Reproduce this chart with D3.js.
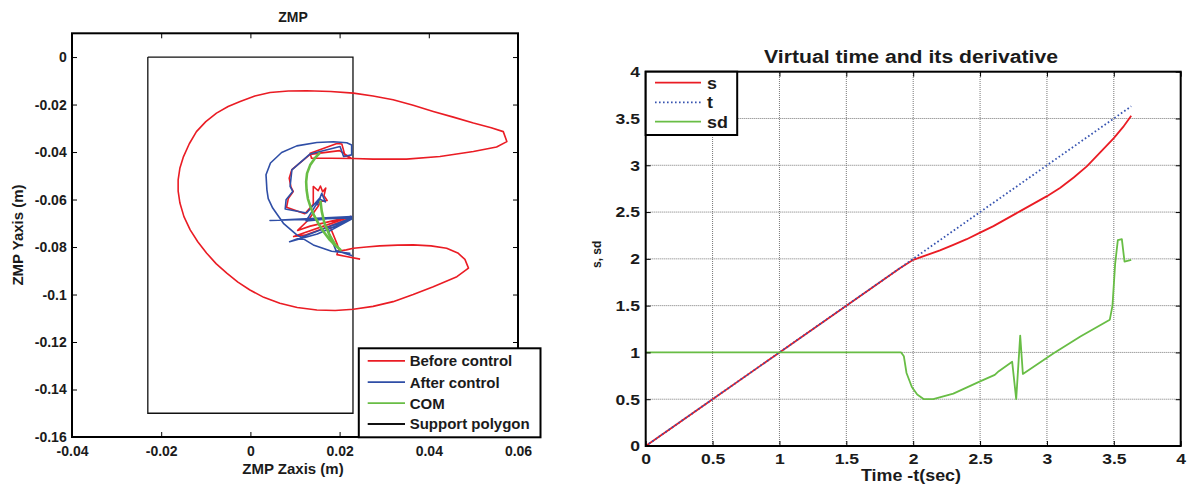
<!DOCTYPE html>
<html>
<head>
<meta charset="utf-8">
<script src="https://cdnjs.cloudflare.com/ajax/libs/d3/7.8.5/d3.min.js"></script>
<style>
  body { margin: 0; background: #fff; }
  svg { display: block; font-family: "Liberation Sans", Arial, sans-serif; font-weight: bold; }
</style>
</head>
<body>
<svg width="1190" height="486"></svg>
<script>
// ---- left panel: ZMP (x = Zaxis, y = Yaxis, metres)
var zmpXTicks = [-0.04, -0.02, 0, 0.02, 0.04, 0.06];
var zmpXLabels = ["-0.04", "-0.02", "0", "0.02", "0.04", "0.06"];
var zmpYTicks = [0, -0.02, -0.04, -0.06, -0.08, -0.1, -0.12, -0.14, -0.16];
var zmpYLabels = ["0", "-0.02", "-0.04", "-0.06", "-0.08", "-0.1", "-0.12", "-0.14", "-0.16"];

var supportPolygon = [[-0.023, 0], [0.023, 0], [0.023, -0.15], [-0.023, -0.15], [-0.023, 0]];

var beforeControl = [
  [0.0246, -0.0851], [0.0215, -0.0840], [0.0194, -0.0832], [0.0196, -0.0818], [0.0215, -0.0812], [0.0231, -0.0805],
  [0.0260, -0.0800], [0.0290, -0.0795], [0.0330, -0.0792], [0.0365, -0.0791], [0.0405, -0.0795], [0.0440, -0.0805],
  [0.0465, -0.0825], [0.0481, -0.0852], [0.0489, -0.0889], [0.0463, -0.0925], [0.0410, -0.0967], [0.0365, -0.1000],
  [0.0320, -0.1030], [0.0275, -0.1050], [0.0231, -0.1062], [0.0190, -0.1067], [0.0149, -0.1065], [0.0105, -0.1055],
  [0.0066, -0.1037], [0.0030, -0.1012], [-0.0001, -0.0981], [-0.0028, -0.0948], [-0.0053, -0.0910], [-0.0077, -0.0870],
  [-0.0098, -0.0826], [-0.0118, -0.0778], [-0.0135, -0.0728], [-0.0149, -0.0672], [-0.0158, -0.0615], [-0.0162, -0.0565],
  [-0.0162, -0.0517], [-0.0158, -0.0467], [-0.0150, -0.0419], [-0.0137, -0.0365], [-0.0121, -0.0314], [-0.0100, -0.0272],
  [-0.0076, -0.0236], [-0.0050, -0.0208], [-0.0023, -0.0187], [0.0010, -0.0164], [0.0044, -0.0149], [0.0085, -0.0143],
  [0.0126, -0.0142], [0.0180, -0.0145], [0.0231, -0.0152], [0.0275, -0.0164], [0.0320, -0.0180], [0.0365, -0.0203],
  [0.0410, -0.0229], [0.0455, -0.0253], [0.0500, -0.0278], [0.0540, -0.0298], [0.0567, -0.0314], [0.0575, -0.0356],
  [0.0552, -0.0379], [0.0500, -0.0398], [0.0425, -0.0419], [0.0350, -0.0430], [0.0275, -0.0430], [0.0231, -0.0427],
  [0.0180, -0.0426], [0.0137, -0.0426],
  [0.0134, -0.0405], [0.0194, -0.0364], [0.0205, -0.0366], [0.0212, -0.0414], [0.0225, -0.0425], [0.0200, -0.0394],
  [0.0134, -0.0410], [0.0093, -0.0474], [0.0087, -0.0510], [0.0091, -0.0548], [0.0096, -0.0566], [0.0085, -0.0596],
  [0.0081, -0.0633], [0.0122, -0.0660], [0.0141, -0.0620], [0.0141, -0.0545], [0.0152, -0.0563], [0.0157, -0.0543],
  [0.0162, -0.0567], [0.0169, -0.0552], [0.0165, -0.0584], [0.0172, -0.0604], [0.0157, -0.0608], [0.0152, -0.0628],
  [0.0130, -0.0686], [0.0106, -0.0730], [0.0134, -0.0712], [0.0225, -0.0672], [0.0097, -0.0756], [0.0122, -0.0750],
  [0.0225, -0.0680], [0.0178, -0.0712], [0.0195, -0.0790], [0.0200, -0.0818]
];

var afterControl = [
  [0.0157, -0.0590], [0.0150, -0.0622], [0.0160, -0.0574], [0.0168, -0.0610], [0.0155, -0.0598],
  [0.0125, -0.0690], [0.0227, -0.0672], [0.0044, -0.0688], [0.0227, -0.0678], [0.0088, -0.0778], [0.0150, -0.0745],
  [0.0227, -0.0682], [0.0175, -0.0735], [0.0192, -0.0815], [0.0227, -0.0836], [0.0205, -0.0822], [0.0223, -0.0826],
  [0.0182, -0.0818], [0.0141, -0.0791], [0.0104, -0.0749], [0.0074, -0.0700], [0.0050, -0.0636], [0.0040, -0.0596],
  [0.0037, -0.0559], [0.0035, -0.0496], [0.0045, -0.0446], [0.0070, -0.0402], [0.0104, -0.0374], [0.0149, -0.0360],
  [0.0186, -0.0357], [0.0216, -0.0361], [0.0227, -0.0370], [0.0227, -0.0412], [0.0209, -0.0419], [0.0201, -0.0377],
  [0.0134, -0.0408], [0.0093, -0.0475], [0.0089, -0.0545], [0.0095, -0.0566], [0.0080, -0.0601], [0.0078, -0.0640],
  [0.0126, -0.0657], [0.0157, -0.0590]
];

var comTrajectory = [
  [0.0156, -0.0403], [0.0145, -0.0425], [0.0134, -0.0455], [0.0127, -0.0490], [0.0125, -0.0525], [0.0126, -0.0560],
  [0.0129, -0.0597], [0.0135, -0.0632], [0.0143, -0.0668], [0.0153, -0.0703], [0.0165, -0.0738], [0.0178, -0.0770],
  [0.0191, -0.0795], [0.0202, -0.0812], [0.0190, -0.0790], [0.0177, -0.0748], [0.0166, -0.0700], [0.0160, -0.0650],
  [0.0157, -0.0605]
];

var zmpLegend = ["Before control", "After control", "COM", "Support polygon"];

// ---- right panel: virtual time s, real time t, derivative sd
var timeTicks = [0, 0.5, 1, 1.5, 2, 2.5, 3, 3.5, 4];
var timeLabels = ["0", "0.5", "1", "1.5", "2", "2.5", "3", "3.5", "4"];
var valueTicks = [0, 0.5, 1, 1.5, 2, 2.5, 3, 3.5, 4];
var valueLabels = ["0", "0.5", "1", "1.5", "2", "2.5", "3", "3.5", "4"];

var sCurve = [
  [0, 0], [0.5, 0.5], [1, 1], [1.5, 1.5], [1.9, 1.9], [2.0, 1.99], [2.1, 2.04], [2.2, 2.09], [2.3, 2.15],
  [2.4, 2.21], [2.5, 2.28], [2.6, 2.35], [2.7, 2.43], [2.8, 2.51], [2.9, 2.59], [3.0, 2.67], [3.1, 2.76],
  [3.2, 2.87], [3.3, 2.99], [3.4, 3.14], [3.5, 3.29], [3.57, 3.41], [3.63, 3.53]
];
var tCurve = [[0, 0], [3.63, 3.63]];
var sdCurve = [
  [0, 1], [1.91, 1], [1.93, 0.96], [1.95, 0.78], [1.99, 0.63], [2.03, 0.55], [2.08, 0.5], [2.15, 0.5], [2.3, 0.56],
  [2.5, 0.69], [2.61, 0.76], [2.64, 0.8], [2.74, 0.9], [2.77, 0.5], [2.8, 1.18], [2.82, 0.77], [3.05, 0.99],
  [3.25, 1.17], [3.47, 1.35], [3.49, 1.5], [3.51, 1.95], [3.53, 2.2], [3.56, 2.21], [3.58, 1.97], [3.63, 1.99]
];
var timeLegend = ["s", "t", "sd"];

var RED = "#ea1c24", BLUE = "#2f4ea6", GREEN = "#68bd45", INK = "#1b1b1b";

var svg = d3.select("svg");
svg.append("rect").attr("width", 1190).attr("height", 486).attr("fill", "#fff");

// inward ticks on all four sides, MATLAB style
function ticks(g, x, y, xt, xl, yt, yl, o) {
  var x0 = x.range()[0], x1 = x.range()[1], y0 = y.range()[0], y1 = y.range()[1];
  var bottom = g.append("g").attr("transform", "translate(0," + y0 + ")")
    .call(d3.axisBottom(x).tickValues(xt).tickFormat(function (d, i) { return xl[i]; })
      .tickSizeInner(-5).tickSizeOuter(0).tickPadding(o.xPad));
  var left = g.append("g").attr("transform", "translate(" + x0 + ",0)")
    .call(d3.axisLeft(y).tickValues(yt).tickFormat(function (d, i) { return yl[i]; })
      .tickSizeInner(-5).tickSizeOuter(0).tickPadding(o.yPad));
  g.append("g").attr("transform", "translate(0," + y1 + ")")
    .call(d3.axisTop(x).tickValues(xt).tickFormat("").tickSizeInner(-5).tickSizeOuter(0));
  g.append("g").attr("transform", "translate(" + x1 + ",0)")
    .call(d3.axisRight(y).tickValues(yt).tickFormat("").tickSizeInner(-5).tickSizeOuter(0));
  g.selectAll(".domain").remove();
  g.selectAll(".tick line").attr("stroke", "#000").attr("stroke-width", 1);
  g.selectAll("g").attr("font-family", null).attr("font-size", null);
  g.selectAll(".tick text").attr("fill", INK).style("font-size", o.size + "px");
  if (o.stretch) {
    bottom.selectAll("text").attr("transform", "scale(" + o.stretch + ",1)");
    left.selectAll("text").attr("x", 0)
      .attr("transform", "translate(" + (-o.yPad) + ",0) scale(" + o.stretch + ",1)");
  }
  g.append("rect").attr("x", x0).attr("y", y1).attr("width", x1 - x0).attr("height", y0 - y1)
    .attr("fill", "none").attr("stroke", "#000").attr("stroke-width", 2);
}

function legend(g, x, y, w, h, items, lineX, textX, rows, o) {
  var lg = g.append("g");
  lg.append("rect").attr("x", x).attr("y", y).attr("width", w).attr("height", h)
    .attr("fill", "#fff").attr("stroke", "#000").attr("stroke-width", 2);
  var row = lg.selectAll(".row").data(items).enter().append("g")
    .attr("transform", function (d, i) { return "translate(0," + rows[i] + ")"; });
  row.append("line").attr("x1", lineX[0]).attr("x2", lineX[1])
    .attr("stroke", function (d) { return d.color; }).attr("stroke-width", function (d) { return d.width; })
    .attr("stroke-dasharray", function (d) { return d.dash || null; });
  row.append("text").attr("transform", "translate(" + textX + "," + o.dy + ") scale(" + (o.stretch || 1) + ",1)")
    .attr("fill", INK).style("font-size", o.size + "px").text(function (d) { return d.name; });
}

// ================= ZMP panel
var zx = d3.scaleLinear().domain([-0.04, 0.06]).range([72, 518]);
var zy = d3.scaleLinear().domain([-0.16, 0.01]).range([437, 33.3]);
var zline = d3.line().x(function (d) { return zx(d[0]); }).y(function (d) { return zy(d[1]); });
var left = svg.append("g");

left.append("path").datum(supportPolygon).attr("d", zline)
  .attr("fill", "none").attr("stroke", "#111").attr("stroke-width", 1.3);
left.append("path").datum(beforeControl).attr("d", zline)
  .attr("fill", "none").attr("stroke", RED).attr("stroke-width", 1.6).attr("stroke-linejoin", "round");
left.append("path").datum(afterControl).attr("d", zline)
  .attr("fill", "none").attr("stroke", BLUE).attr("stroke-width", 1.6).attr("stroke-linejoin", "round");
left.append("path").datum(comTrajectory).attr("d", zline)
  .attr("fill", "none").attr("stroke", GREEN).attr("stroke-width", 2.6).attr("stroke-linejoin", "round");

ticks(left, zx, zy, zmpXTicks, zmpXLabels, zmpYTicks, zmpYLabels, { xPad: 8.8, yPad: 5.3, size: 14 });

left.append("text").attr("x", 293).attr("y", 22).attr("text-anchor", "middle")
  .attr("fill", INK).style("font-size", "14px").text("ZMP");
left.append("text").attr("x", 293).attr("y", 473.5).attr("text-anchor", "middle")
  .attr("fill", INK).style("font-size", "15px").text("ZMP Zaxis (m)");
left.append("text").attr("transform", "translate(23,235) rotate(-90)").attr("text-anchor", "middle")
  .attr("fill", INK).style("font-size", "15px").text("ZMP Yaxis (m)");

legend(left, 358.8, 348.3, 181.7, 89, [
  { name: zmpLegend[0], color: RED, width: 1.8 },
  { name: zmpLegend[1], color: BLUE, width: 1.8 },
  { name: zmpLegend[2], color: GREEN, width: 1.8 },
  { name: zmpLegend[3], color: "#111", width: 1.8 }
], [367.7, 405], 409.7, [360.8, 382.1, 403.1, 424], { dy: 5.4, size: 15 });

// ================= virtual time panel
var tx = d3.scaleLinear().domain([0, 4]).range([645.7, 1180.7]);
var ty = d3.scaleLinear().domain([0, 4]).range([446, 71.7]);
var tline = d3.line().x(function (d) { return tx(d[0]); }).y(function (d) { return ty(d[1]); });
var right = svg.append("g");

// dotted grid
right.append("g").selectAll("line").data(timeTicks.slice(1, -1)).enter().append("line")
  .attr("x1", function (d) { return tx(d); }).attr("x2", function (d) { return tx(d); })
  .attr("y1", ty(0)).attr("y2", ty(4));
right.append("g").selectAll("line").data(valueTicks.slice(1, -1)).enter().append("line")
  .attr("y1", function (d) { return ty(d); }).attr("y2", function (d) { return ty(d); })
  .attr("x1", tx(0)).attr("x2", tx(4));
right.selectAll("line").attr("stroke", "#777").attr("stroke-width", 1).attr("stroke-dasharray", "1,1");

right.append("path").datum(sCurve).attr("d", tline)
  .attr("fill", "none").attr("stroke", RED).attr("stroke-width", 1.8);
right.append("path").datum(tCurve).attr("d", tline)
  .attr("fill", "none").attr("stroke", "#3653b0").attr("stroke-width", 1.8).attr("stroke-dasharray", "1.6,2.4");
right.append("path").datum(sdCurve).attr("d", tline)
  .attr("fill", "none").attr("stroke", GREEN).attr("stroke-width", 1.8).attr("stroke-linejoin", "round");

ticks(right, tx, ty, timeTicks, timeLabels, valueTicks, valueLabels, { xPad: 7.8, yPad: 5.7, size: 15, stretch: 1.17 });

right.append("text").attr("x", 911).attr("y", 62.5).attr("text-anchor", "middle")
  .attr("textLength", 294).attr("lengthAdjust", "spacingAndGlyphs")
  .attr("fill", INK).style("font-size", "17.5px").text("Virtual time and its derivative");
right.append("text").attr("x", 911).attr("y", 481).attr("text-anchor", "middle")
  .attr("textLength", 100).attr("lengthAdjust", "spacingAndGlyphs")
  .attr("fill", INK).style("font-size", "16px").text("Time -t(sec)");
right.append("text").attr("transform", "translate(601,254.3) rotate(-90)").attr("text-anchor", "middle")
  .attr("fill", INK).style("font-size", "12px").text("s, sd");

legend(right, 645.7, 71.7, 91.5, 63.3, [
  { name: timeLegend[0], color: RED, width: 1.8 },
  { name: timeLegend[1], color: "#3653b0", width: 1.8, dash: "1.6,2.4" },
  { name: timeLegend[2], color: GREEN, width: 1.8 }
], [655, 701], 707, [82.7, 102.3, 121.7], { dy: 6, size: 16, stretch: 1.12 });
</script>
</body>
</html>
